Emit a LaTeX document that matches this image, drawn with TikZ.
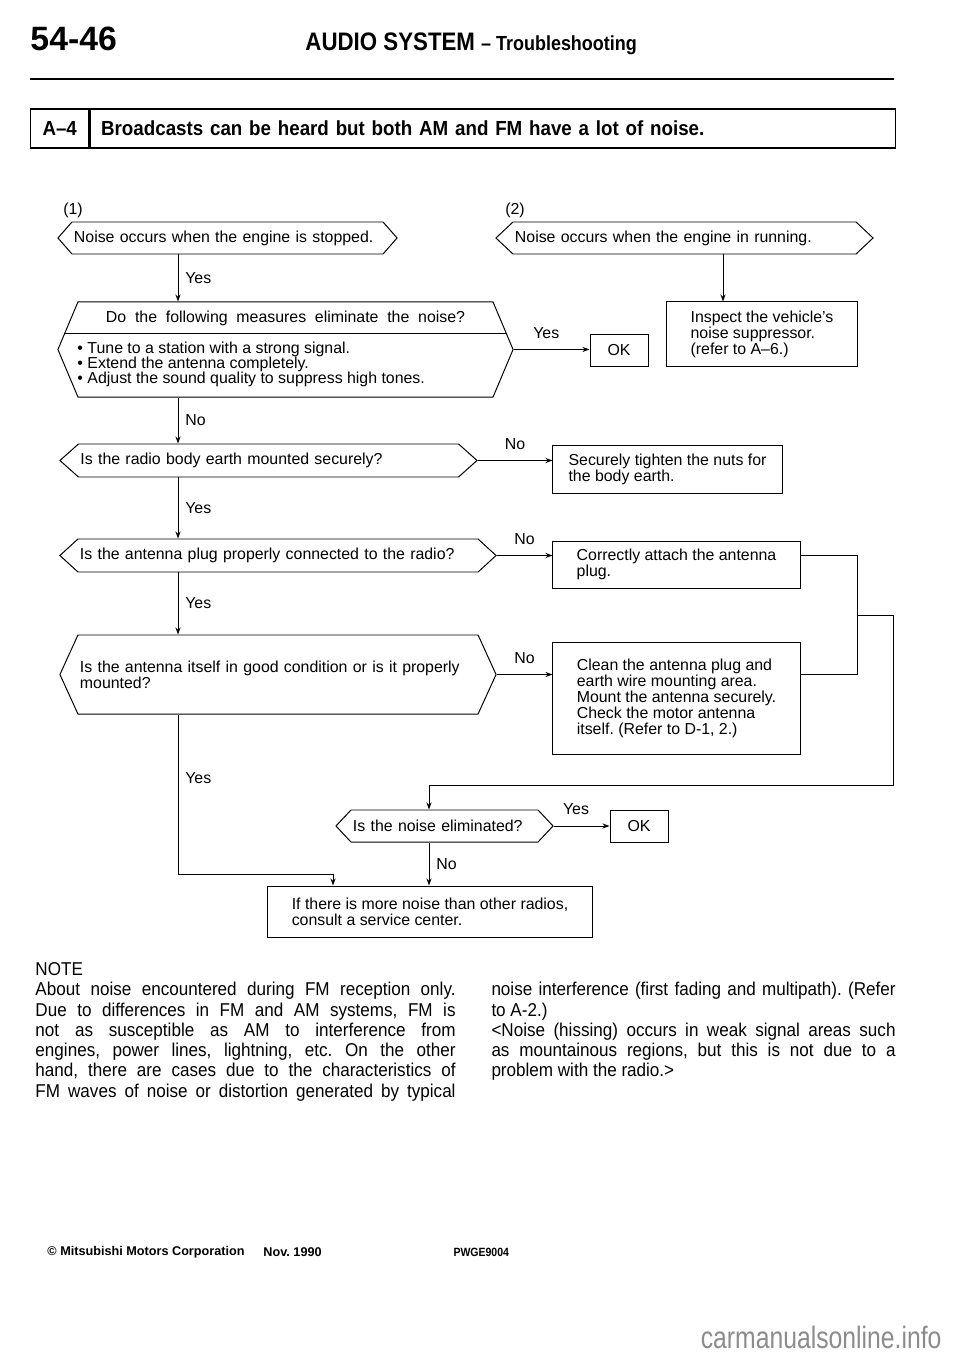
\documentclass[tikz,border=0pt]{standalone}
\usepackage{fontspec}
\setmainfont{Liberation Sans}
\newfontfamily\condfont[FakeStretch=0.88]{Liberation Sans}
\newfontfamily\titlefont[FakeStretch=0.92]{Liberation Sans}
\newfontfamily\notefont[FakeStretch=0.92]{Liberation Sans}
\newfontfamily\markfont[FakeStretch=0.8]{Liberation Sans}
\usetikzlibrary{shapes.symbols,arrows.meta}
\newcommand{\dg}{\fontsize{11.3}{11.3}\selectfont}
\newcommand{\nt}{\notefont\fontsize{13.2}{14.4}\selectfont}
\newcommand{\hdf}[1]{\condfont\bfseries\fontsize{#1}{#1}\selectfont}
\frenchspacing

\begin{document}
\begin{tikzpicture}[x=0.025cm, y=-0.025cm, line width=0.7pt, font=\dg,
  hexq/.style={signal, signal to=west and east, draw, inner xsep=0.05cm, inner ysep=0pt, align=left},
  stepbox/.style={draw, inner sep=0pt, align=left},
  okbox/.style={draw, inner sep=0pt},
  arr/.style={-{Stealth[length=5pt,width=3.6pt]}},
  vlab/.style={right, inner sep=0.17cm},
  hlab/.style={above, inner sep=0.26cm},
  notecol/.style={anchor=north west, inner sep=0pt, align=justify, font=\nt}]
  \useasboundingbox (0,0) rectangle (960,1358);

  \node[anchor=base west, inner sep=0pt, font=\bfseries\fontsize{24}{24}\selectfont] (page) at (30,51) {54-46};
  \node[anchor=base west, inner sep=0pt, font=\hdf{18}] (chapter) at (305,51) {AUDIO SYSTEM {\fontsize{14.5}{14.5}\selectfont – Troubleshooting}};
  \draw[line width=1.8pt] (30,79) -- (894,79);
  \node[draw, line width=1pt, minimum width=1.45cm, minimum height=0.975cm, anchor=west, font=\titlefont\bfseries\fontsize{14.5}{14.5}\selectfont] (code) at (30,128.5) {A–4};
  \node[draw, line width=1pt, minimum height=0.975cm, text width=19.575cm, inner xsep=0.275cm, align=left, anchor=west, font=\titlefont\bfseries\fontsize{14.5}{14.5}\selectfont] (title) at (code.east) {Broadcasts can be heard but both AM and FM have a lot of noise.};

  \node (part1) at (73,210) {(1)};
  \node (part2) at (515,210) {(2)};

  \node[hexq, text width=7.675cm, minimum height=0.8cm, signal pointer angle=97.6] (stop) at (227.5,238) {Noise occurs when the engine is stopped.};
  \node[hexq, text width=8.475cm, minimum height=0.8cm, signal pointer angle=86.5] (run) at (684.5,238) {Noise occurs when the engine in running.};
  \node[hexq, text width=10.275cm, minimum height=2.375cm, signal pointer angle=134.3,
    path picture={\draw ([yshift=0.4125cm]path picture bounding box.west) -- ([yshift=0.4125cm]path picture bounding box.east);}] (meas) at (285.5,349.5) {};
  \node (measq) at (285.5,318) {\makebox[8.975cm][s]{Do the following measures eliminate the noise?}};
  \node[anchor=west, align=left, inner sep=0pt, font=\fontsize{11.3}{10.6}\selectfont] (measl) at (77,364) {\textbullet\ Tune to a station with a strong signal.\\ \textbullet\ Extend the antenna completely.\\ \textbullet\ Adjust the sound quality to suppress high tones.};
  \node[hexq, text width=9.4cm, minimum height=0.825cm, signal pointer angle=83.5] (earth) at (268.5,460.5) {Is the radio body earth mounted securely?};
  \node[hexq, text width=9.9cm, minimum height=0.825cm, signal pointer angle=85] (plug) at (278,555.5) {Is the antenna plug properly connected to the radio?};
  \node[hexq, text width=9.9cm, minimum height=1.975cm, signal pointer angle=131] (ant) at (278,674.5) {Is the antenna itself in good condition or is it properly\\ mounted?};
  \node[hexq, text width=4.575cm, minimum height=0.8cm, signal pointer angle=93.7] (elim) at (444.5,826) {Is the noise eliminated?};

  \node[okbox, minimum width=1.45cm, minimum height=0.8cm] (ok1) at (619,350) {OK};
  \node[stepbox, minimum width=4.75cm, minimum height=1.6cm] (inspect) at (762,334) {Inspect the vehicle’s\\ noise suppressor.\\ (refer to A–6.)};
  \node[stepbox, minimum width=5.725cm, minimum height=1.2cm] (tight) at (667.5,469) {Securely tighten the nuts for\\ the body earth.};
  \node[stepbox, minimum width=6.175cm, minimum height=1.175cm] (attach) at (676.5,564.5) {Correctly attach the antenna\\ plug.};
  \node[stepbox, minimum width=6.175cm, minimum height=2.775cm] (clean) at (676.5,698.5) {Clean the antenna plug and\\ earth wire mounting area.\\ Mount the antenna securely.\\ Check the motor antenna\\ itself. (Refer to D-1, 2.)};
  \node[okbox, minimum width=1.45cm, minimum height=0.8cm] (ok2) at (639,826) {OK};
  \node[stepbox, minimum width=8.1cm, minimum height=1.275cm] (final) at (430,911.5) {If there is more noise than other radios,\\ consult a service center.};

  \coordinate (spine) at (178,0);
  \coordinate (rspine) at (723,0);
  \coordinate (espine) at (429,0);
  \coordinate (brk) at (857,615);
  \coordinate (loop) at (893,785);
  \coordinate (turn) at (333,874);

  \foreach \a/\b/\t in {stop/meas/Yes, meas/earth/No, earth/plug/Yes, plug/ant/Yes}
    \draw[arr] (\a.south -| spine) -- node[vlab]{\t} (\b.north -| spine);
  \draw[arr] (run.south -| rspine) -- (inspect.north -| rspine);
  \draw[arr] (meas.east) -- node[hlab, pos=0.43]{Yes} (ok1.west |- meas.east);
  \foreach \a/\b in {earth/tight, plug/attach, ant/clean}
    \draw[arr] (\a.east) -- node[hlab]{No} (\b.west |- \a.east);
  \draw (attach.east |- plug.east) -| (brk) |- (clean.east |- ant.east);
  \draw[arr] (brk) -| (loop) -| (elim.north -| espine);
  \draw[arr] (elim.east) -- node[hlab, pos=0.4]{Yes} (ok2.west |- elim.east);
  \draw[arr] (elim.south -| espine) -- node[vlab]{No} (final.north -| espine);
  \draw[arr] (ant.south -| spine) |- node[vlab, pos=0.2]{Yes} (turn) -- (final.north -| turn);

  \node[anchor=base west, inner sep=0pt, font=\nt] (notehd) at (35,975) {NOTE};
  \node[notecol, text width=10.5cm] (notel) at (35,982) {\parindent=0pt About noise encountered during FM reception only.\linebreak Due to differences in FM and AM systems, FM is\linebreak not as susceptible as AM to interference from\linebreak engines, power lines, lightning, etc. On the other\linebreak hand, there are cases due to the characteristics of\linebreak \makebox[\linewidth][s]{FM waves of noise or distortion generated by typical}};
  \node[notecol, text width=10.1cm] (noter) at (491,982) {\parindent=0pt noise interference (first fading and multipath). (Refer\linebreak to A-2.)\par <Noise (hissing) occurs in weak signal areas such\linebreak as mountainous regions, but this is not due to a\linebreak problem with the radio.>};

  \node[anchor=west, inner sep=0pt, font=\bfseries\fontsize{9}{9}\selectfont] (corp) at (47,1252) {© Mitsubishi Motors Corporation};
  \node[anchor=west, inner sep=0pt, font=\bfseries\fontsize{9}{9}\selectfont] (date) at (263,1252) {Nov. 1990};
  \node[anchor=west, inner sep=0pt, font=\hdf{8.5}] (docno) at (453,1252) {PWGE9004};
  \node[anchor=east, inner sep=0pt, text=black!45, font=\markfont\fontsize{22}{22}\selectfont] (site) at (942,1337) {carmanualsonline.info};
\end{tikzpicture}
\end{document}
